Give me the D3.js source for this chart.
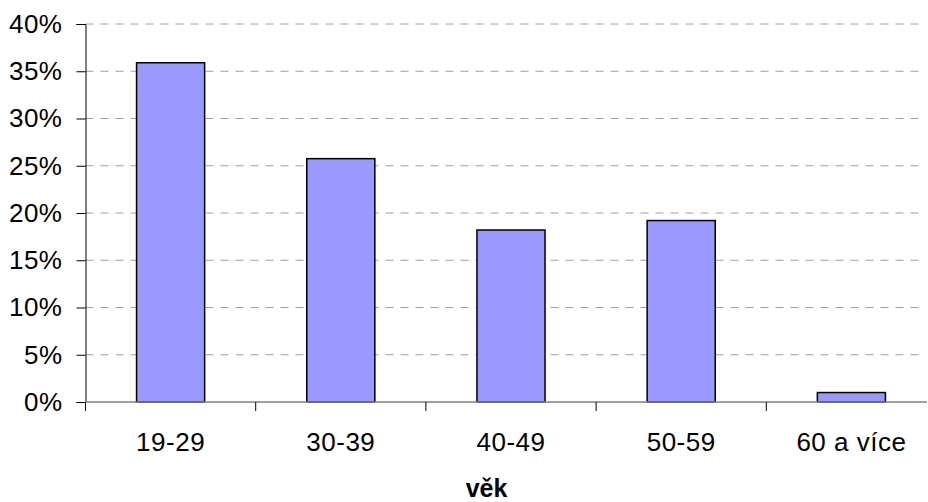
<!DOCTYPE html>
<html><head><meta charset="utf-8">
<script src="https://cdn.jsdelivr.net/npm/d3@7"></script>
<style>body{margin:0;background:#fff}svg{display:block}text{font-family:Arial,"Liberation Sans",sans-serif}</style>
</head><body>
<script>
const categories = ["19-29", "30-39", "40-49", "50-59", "60 a více"];
const values = [35.9, 25.75, 18.2, 19.2, 1.0];
const yTicks = [0, 5, 10, 15, 20, 25, 30, 35, 40];
const xTitle = "věk";

const W = 928, H = 502;
const svg = d3.select("body").append("svg").attr("width", W).attr("height", H);
const x0 = 85.5, x1 = 936.5;
const x = d3.scaleBand().domain(categories).range([x0, x1]).paddingInner(0.6).paddingOuter(0.3);
const y = d3.scaleLinear().domain([0, 40]).range([402, 24]);

// gridlines
svg.append("g").selectAll("line").data(yTicks.filter(d => d > 0)).join("line")
  .attr("x1", x0).attr("x2", 923).attr("y1", d => y(d)).attr("y2", d => y(d))
  .attr("stroke", "#a0a0a0").attr("stroke-width", 1).attr("stroke-dasharray", "8,7");

// bars
svg.append("g").selectAll("rect").data(values).join("rect")
  .attr("x", (d, i) => x(categories[i])).attr("width", x.bandwidth())
  .attr("y", d => y(d)).attr("height", d => y(0) - y(d))
  .attr("fill", "#9999ff").attr("stroke", "#000").attr("stroke-width", 1.5);

// y axis
const ya = svg.append("g").attr("transform", `translate(${x0},0)`)
  .call(d3.axisLeft(y).tickValues(yTicks).tickFormat(d => d + "%").tickSize(9).tickPadding(14));
ya.select(".domain").attr("stroke", "#000");
ya.selectAll(".tick line").attr("stroke", "#000");
ya.selectAll("text").attr("font-size", 26).attr("letter-spacing", "0.5px").attr("fill", "#000")
  .attr("font-family", "Arial, 'Liberation Sans', sans-serif");

// x axis
const bandStep = x.step();
const tickPos = d3.range(categories.length).map(i => x0 + i * bandStep);
svg.append("line").attr("x1", x0).attr("x2", 927).attr("y1", y(0)).attr("y2", y(0))
  .attr("stroke", "#808080").attr("stroke-width", 1.5);
svg.append("g").selectAll("line").data(tickPos).join("line")
  .attr("x1", d => d).attr("x2", d => d).attr("y1", y(0)).attr("y2", y(0) + 9)
  .attr("stroke", "#000");
svg.append("g").selectAll("text").data(categories).join("text")
  .attr("x", d => x(d) + x.bandwidth() / 2).attr("y", 451)
  .attr("text-anchor", "middle").attr("font-size", 26).attr("letter-spacing", "0.5px")
  .attr("fill", "#000").text(d => d);

svg.append("text").attr("x", 486.5).attr("y", 497).attr("text-anchor", "middle")
  .attr("font-size", 25).attr("font-weight", "bold").attr("fill", "#000").text(xTitle);
</script>
</body></html>
